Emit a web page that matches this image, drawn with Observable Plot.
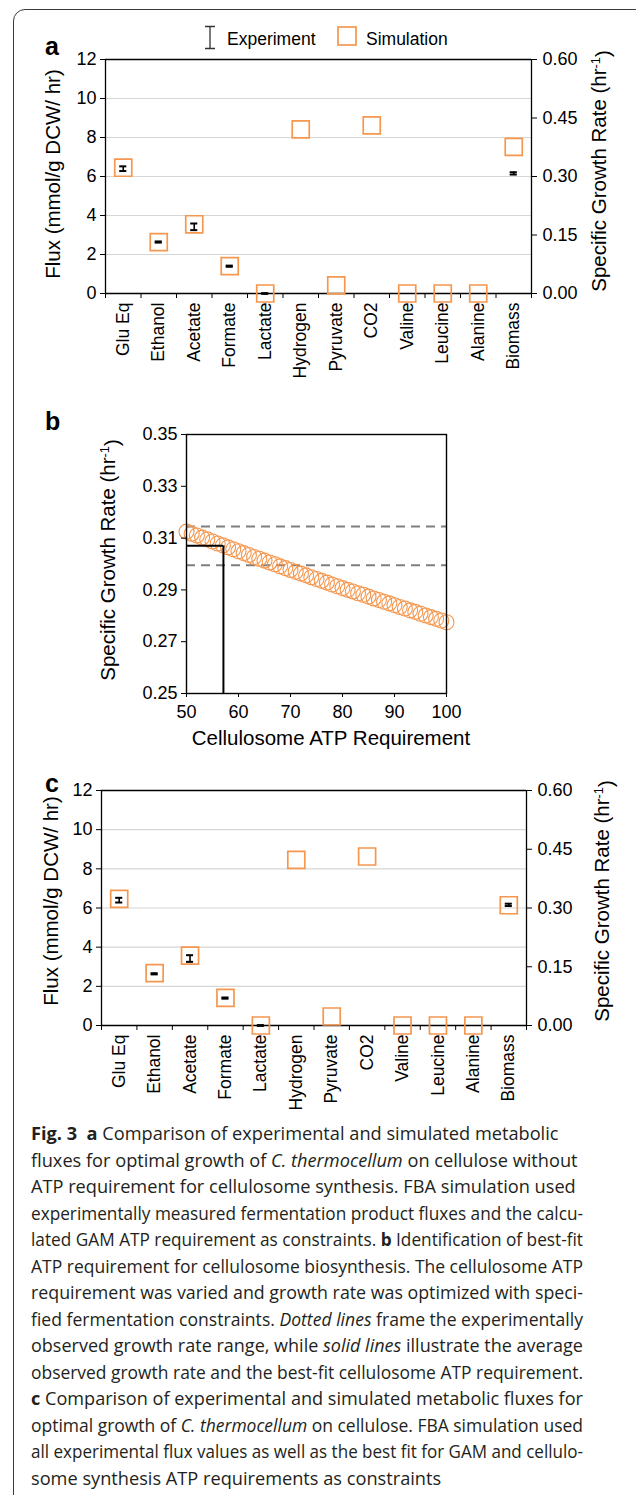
<!DOCTYPE html>
<html><head><meta charset="utf-8">
<script src="https://cdn.jsdelivr.net/npm/d3@7"></script>
<script src="https://cdn.jsdelivr.net/npm/@observablehq/plot@0.6"></script>
<style>
html,body{margin:0;padding:0;background:#fff;}
body{width:636px;height:1495px;position:relative;overflow:hidden;font-family:"Liberation Sans",Arial,sans-serif;}
#frame{position:absolute;left:13px;top:9px;width:700px;height:1600px;border:1.2px solid #3a3a3a;border-radius:12px;box-sizing:border-box;}
.panel{position:absolute;left:0;width:636px;}
.panel svg{overflow:visible;}
#caption{position:absolute;left:31px;top:1120px;width:560px;font-family:"Open Sans",Lato,sans-serif;font-size:18.2px;line-height:26.5px;color:#231f20;}
#caption .ln{height:26.5px;}
#caption .ln span.in{white-space:nowrap;display:inline-block;transform-origin:0 50%;}
</style></head><body>
<div id="frame"></div>
<div id="pa" class="panel" style="top:0px"></div>
<div id="pb" class="panel" style="top:370px"></div>
<div id="pc" class="panel" style="top:760px"></div>
<div id="caption">
<div class="ln"><span class="in"><b>Fig. 3</b>&nbsp; <b>a</b> Comparison of experimental and simulated metabolic</span></div>
<div class="ln"><span class="in">fluxes for optimal growth of <i>C. thermocellum</i> on cellulose without</span></div>
<div class="ln"><span class="in">ATP requirement for cellulosome synthesis. FBA simulation used</span></div>
<div class="ln"><span class="in">experimentally measured fermentation product fluxes and the calcu-</span></div>
<div class="ln"><span class="in">lated GAM ATP requirement as constraints. <b>b</b> Identification of best-fit</span></div>
<div class="ln"><span class="in">ATP requirement for cellulosome biosynthesis. The cellulosome ATP</span></div>
<div class="ln"><span class="in">requirement was varied and growth rate was optimized with speci-</span></div>
<div class="ln"><span class="in">fied fermentation constraints. <i>Dotted lines</i> frame the experimentally</span></div>
<div class="ln"><span class="in">observed growth rate range, while <i>solid lines</i> illustrate the average</span></div>
<div class="ln"><span class="in">observed growth rate and the best-fit cellulosome ATP requirement.</span></div>
<div class="ln"><span class="in"><b>c</b> Comparison of experimental and simulated metabolic fluxes for</span></div>
<div class="ln"><span class="in">optimal growth of <i>C. thermocellum</i> on cellulose. FBA simulation used</span></div>
<div class="ln"><span class="in">all experimental flux values as well as the best fit for GAM and cellulo-</span></div>
<div class="ln last"><span class="in">some synthesis ATP requirements as constraints</span></div>
</div>
<script>
// ---------- data ----------
const categories = ["Glu Eq","Ethanol","Acetate","Formate","Lactate","Hydrogen","Pyruvate","CO2","Valine","Leucine","Alanine","Biomass"];
// simulated fluxes (mmol/g DCW/hr) for the first 11 categories; biomass as growth rate (1/hr)
const simFluxA = [6.45, 2.63, 3.55, 1.40, 0.00, 8.42, 0.42, 8.62, 0.00, 0.00, 0.00];
const simGrowthA = 0.376;
const simFluxC = [6.47, 2.67, 3.57, 1.41, 0.00, 8.46, 0.46, 8.63, 0.00, 0.00, 0.00];
const simGrowthC = 0.307;
// experimental fluxes (first 5 categories) with error
const expFluxMean = [6.40, 2.64, 3.42, 1.40, 0.00];
const expFluxErr  = [0.12, 0.03, 0.17, 0.03, 0.02];
const expGrowthMean = 0.308;
const expGrowthErr = 0.003;
const fluxTicks = [0, 2, 4, 6, 8, 10, 12];
const growthTicks = [0.00, 0.15, 0.30, 0.45, 0.60];
// panel b
const atpRequirement = [50,51,52,53,54,55,56,57,58,59,60,61,62,63,64,65,66,67,68,69,70,71,72,73,74,75,76,77,78,79,80,81,82,83,84,85,86,87,88,89,90,91,92,93,94,95,96,97,98,99,100];
const growthRateSim = [0.3125,0.3117,0.3110,0.3102,0.3095,0.3087,0.3079,0.3072,0.3064,0.3057,0.3049,
  0.3042,0.3035,0.3027,0.3020,0.3013,0.3006,0.2999,0.2991,0.2984,0.2977,
  0.2970,0.2963,0.2956,0.2949,0.2942,0.2935,0.2928,0.2921,0.2914,0.2907,
  0.2900,0.2894,0.2887,0.2881,0.2874,0.2867,0.2861,0.2854,0.2848,0.2841,
  0.2834,0.2828,0.2821,0.2815,0.2808,0.2801,0.2795,0.2788,0.2782,0.2775];
const growthObservedRange = [0.2995, 0.3145];
const growthObservedAvg = 0.307;
const bestFitATP = 57.1;
const atpTicks = [50, 60, 70, 80, 90, 100];
const growthBTicks = [0.25, 0.27, 0.29, 0.31, 0.33, 0.35];

// ---------- styles ----------
const ORANGE = "#f5974e";
const FONT = "'Liberation Sans', Arial, sans-serif";
const fluxMax = 12, growthMax = 0.60, ratio = fluxMax / growthMax;

function addText(svg, {x, y, text, size = 20.5, weight = "normal", rotate = 0, anchor = "middle", sup = null, dy = "0.35em"}) {
  const t = d3.select(svg).append("text")
    .attr("transform", `translate(${x},${y}) rotate(${rotate})`)
    .attr("text-anchor", anchor).attr("dy", dy)
    .attr("font-family", FONT).attr("font-size", size).attr("font-weight", weight).attr("fill", "#000");
  t.append("tspan").text(text);
  if (sup) {
    t.append("tspan").attr("dy", "-0.45em").attr("font-size", size * 0.62).text(sup);
    t.append("tspan").attr("dy", "0.45em").text(")");
  }
  return t;
}

function fluxPanel(simFlux, simGrowth, opts) {
  const simRows = categories.map((c, i) => ({i, v: i < simFlux.length ? simFlux[i] : simGrowth * ratio}));
  const expRows = expFluxMean.map((m, i) => ({i, lo: m - expFluxErr[i], hi: m + expFluxErr[i]}));
  expRows.push({i: categories.length - 1, lo: (expGrowthMean - expGrowthErr) * ratio, hi: (expGrowthMean + expGrowthErr) * ratio});
  const idx = categories.map((c, i) => i);
  const bounds = categories.map((c, i) => i - 0.5).concat([categories.length - 0.5]);
  const xDom = [bounds[0], bounds[bounds.length - 1]];
  return Plot.plot({
    width: 636, height: opts.height,
    marginTop: opts.mTop, marginBottom: opts.mBottom, marginLeft: opts.mLeft, marginRight: opts.mRight,
    x: {domain: xDom, axis: null},
    y: {domain: [0, fluxMax], axis: null},
    style: {fontFamily: FONT, fontSize: "18px", color: "#000", background: "transparent", overflow: "visible"},
    marks: [
      Plot.ruleY(fluxTicks.filter(t => t > 0 && t < fluxMax), {stroke: "#d6d6d6", strokeWidth: 1.2}),
      Plot.ruleY([0, fluxMax], {stroke: "#000", strokeWidth: 1.3}),
      Plot.ruleX(xDom, {stroke: "#000", strokeWidth: 1.3}),
      Plot.axisY({anchor: "left", ticks: fluxTicks, tickSize: 5, tickPadding: 4, label: null, fontSize: 18}),
      Plot.axisY({anchor: "right", ticks: growthTicks.map(g => g * ratio), tickFormat: d => (d / ratio).toFixed(2), tickSize: 5, tickPadding: 6, label: null, fontSize: 18}),
      Plot.axisX({ticks: bounds, tickFormat: () => "", tickSize: 5, label: null}),
      Plot.axisX({ticks: idx, tickFormat: i => categories[i], tickSize: 0, tickPadding: 9, tickRotate: -90, label: null, fontSize: 17.5}),
      Plot.dot(simRows, {x: "i", y: "v", symbol: "square", r: 9.6, stroke: ORANGE, strokeWidth: 1.7, fill: "none"}),
      Plot.ruleX(expRows, {x: "i", y1: "lo", y2: "hi", stroke: "#000", strokeWidth: 1.6}),
      Plot.ruleY(expRows, {y: "lo", x1: d => d.i - 0.1, x2: d => d.i + 0.1, stroke: "#000", strokeWidth: 2}),
      Plot.ruleY(expRows, {y: "hi", x1: d => d.i - 0.1, x2: d => d.i + 0.1, stroke: "#000", strokeWidth: 2})
    ]
  });
}

// ---------- panel a ----------
const svgA = fluxPanel(simFluxA, simGrowthA, {height: 370, mTop: 59, mBottom: 77, mLeft: 105, mRight: 105});
document.getElementById("pa").appendChild(svgA);
addText(svgA, {x: 45, y: 55, text: "a", size: 25, weight: "bold", anchor: "start", dy: 0});
addText(svgA, {x: 53, y: 174, text: "Flux (mmol/g DCW/ hr)", rotate: -90});
addText(svgA, {x: 599, y: 171, text: "Specific Growth Rate (hr", sup: "-1", rotate: -90});
// legend
{
  const g = d3.select(svgA).append("g");
  g.append("path").attr("d", "M205,26.5H215M210,26.5V48.5M205,48.5H215").attr("stroke", "#333").attr("stroke-width", 1.3).attr("fill", "none");
  g.append("text").attr("x", 227).attr("y", 45).attr("text-anchor", "start").attr("font-family", FONT).attr("font-size", 17.5).attr("fill", "#000").text("Experiment");
  g.append("rect").attr("x", 338).attr("y", 27).attr("width", 18).attr("height", 18).attr("fill", "none").attr("stroke", ORANGE).attr("stroke-width", 1.7);
  g.append("text").attr("x", 366).attr("y", 45).attr("text-anchor", "start").attr("font-family", FONT).attr("font-size", 17.5).attr("fill", "#000").text("Simulation");
}

// ---------- panel b ----------
const rowsB = atpRequirement.map((a, i) => ({a, g: growthRateSim[i]}));
const svgB = Plot.plot({
  width: 636, height: 390,
  marginTop: 64, marginBottom: 67, marginLeft: 186, marginRight: 190,
  x: {domain: [atpTicks[0], atpTicks[atpTicks.length - 1]], axis: null},
  y: {domain: [growthBTicks[0], growthBTicks[growthBTicks.length - 1]], axis: null},
  style: {fontFamily: FONT, fontSize: "18px", color: "#000", background: "transparent", overflow: "visible"},
  marks: [
    Plot.ruleY(growthObservedRange, {stroke: "#7f7f7f", strokeWidth: 2, strokeDasharray: "9,6"}),
    Plot.dot(rowsB, {x: "a", y: "g", r: 7.5, stroke: ORANGE, strokeWidth: 1.1, fill: "none"}),
    Plot.ruleY([growthObservedAvg], {x1: atpTicks[0], x2: bestFitATP, stroke: "#000", strokeWidth: 2}),
    Plot.ruleX([bestFitATP], {y1: growthBTicks[0], y2: growthObservedAvg, stroke: "#000", strokeWidth: 2}),
    Plot.frame({stroke: "#000", strokeWidth: 1.4}),
    Plot.axisY({ticks: growthBTicks, tickFormat: d3.format(".2f"), tickSize: 5, tickPadding: 4, label: null, fontSize: 18}),
    Plot.axisX({ticks: atpTicks, tickSize: 4, tickPadding: 8, label: null, fontSize: 18})
  ]
});
document.getElementById("pb").appendChild(svgB);
addText(svgB, {x: 45, y: 60, text: "b", size: 25, weight: "bold", anchor: "start", dy: 0});
addText(svgB, {x: 108, y: 190, text: "Specific Growth Rate (hr", sup: "-1", rotate: -90});
addText(svgB, {x: 331, y: 375, text: "Cellulosome ATP Requirement", dy: 0});

// ---------- panel c ----------
const svgC = fluxPanel(simFluxC, simGrowthC, {height: 360, mTop: 30, mBottom: 95, mLeft: 101, mRight: 110});
document.getElementById("pc").appendChild(svgC);
addText(svgC, {x: 45, y: 32, text: "c", size: 25, weight: "bold", anchor: "start", dy: 0});
addText(svgC, {x: 51, y: 141, text: "Flux (mmol/g DCW/ hr)", rotate: -90});
addText(svgC, {x: 602, y: 141, text: "Specific Growth Rate (hr", sup: "-1", rotate: -90});

// ---------- caption: keep lines within the text block ----------
function fitCaption() {
  const target = 552;
  document.querySelectorAll("#caption .ln").forEach(ln => {
    const s = ln.querySelector("span.in");
    s.style.transform = "";
    const w = s.getBoundingClientRect().width;
    if (w > target) s.style.transform = `scaleX(${target / w})`;
  });
}
fitCaption();
if (document.fonts && document.fonts.ready) document.fonts.ready.then(fitCaption);
</script>
</body></html>
